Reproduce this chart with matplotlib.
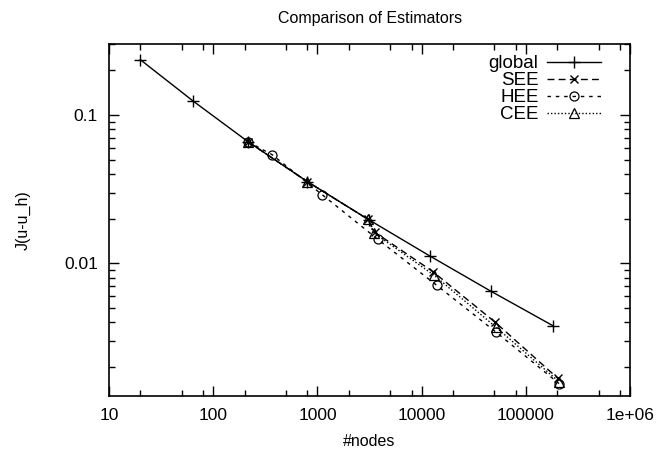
import matplotlib
matplotlib.use("Agg")
import matplotlib.pyplot as plt
from matplotlib.ticker import FixedLocator, NullFormatter

plt.rcParams['font.family'] = ['Liberation Sans', 'DejaVu Sans']

# data
global_n = [20, 64, 216, 800, 3100, 12000, 46000, 182000]
global_j = [0.235, 0.124, 0.0659, 0.0355, 0.0197, 0.0112, 0.0065, 0.0038]

see_n = [216, 800, 3050, 3550, 12800, 51000, 203000]
see_j = [0.0659, 0.0355, 0.0198, 0.0162, 0.0088, 0.0040, 0.00168]

hee_n = [216, 366, 1110, 3800, 14000, 51500, 208000]
hee_j = [0.0659, 0.054, 0.029, 0.0145, 0.0071, 0.00345, 0.00155]

cee_n = [216, 800, 3050, 3500, 13200, 52000, 207000]
cee_j = [0.0659, 0.0355, 0.0198, 0.0160, 0.0083, 0.0037, 0.0016]

xticks = [10, 100, 1000, 10000, 100000, 1000000]
xticklabels = ['10', '100', '1000', '10000', '100000', '1e+06']
yticks = [0.01, 0.1]
yticklabels = ['0.01', '0.1']

fig = plt.figure(figsize=(6.57, 4.54), dpi=100)
ax = fig.add_axes([0.166, 0.128, 0.793, 0.775])

ax.plot(global_n, global_j, color='black', lw=1.0, ls='-', marker='+', ms=9, mew=1.0, label='global')
ax.plot(see_n, see_j, color='black', lw=1.0, ls=(0, (5, 3)), marker='x', ms=6, mew=1.0, label='SEE')
ax.plot(hee_n, hee_j, color='black', lw=1.0, ls=(0, (2.5, 3.5)), marker='o', ms=6.5, mew=0.9,
        mfc='none', label='HEE')
ax.plot(cee_n, cee_j, color='black', lw=1.0, ls=(0, (1, 1.5)), marker='^', ms=6.5, mew=0.9,
        mfc='none', label='CEE')

ax.set_xscale('log')
ax.set_yscale('log')
ax.set_xlim(10, 1e6)
ax.set_ylim(0.00128, 0.30)

ax.xaxis.set_major_locator(FixedLocator(xticks))
ax.set_xticklabels(xticklabels)
# minor ticks like the gnuplot output (2, 5, 8 per decade)
xminor = [m * 10 ** e for e in range(1, 6) for m in (2, 5, 8)]
ax.xaxis.set_minor_locator(FixedLocator(xminor))
ax.xaxis.set_minor_formatter(NullFormatter())

ax.yaxis.set_major_locator(FixedLocator(yticks))
ax.set_yticklabels(yticklabels)
yminor = [m * 10 ** e for e in range(-3, 0) for m in range(2, 10)]
ax.yaxis.set_minor_locator(FixedLocator(yminor))
ax.yaxis.set_minor_formatter(NullFormatter())

ax.tick_params(which='both', direction='in', top=True, right=True, width=1.0, labelsize=12.5)
ax.tick_params(which='major', length=7)
ax.tick_params(which='minor', length=4)
ax.tick_params(axis='x', pad=9)
ax.tick_params(axis='y', pad=8)
for s in ax.spines.values():
    s.set_linewidth(1.2)

ax.set_xlabel('#nodes', fontsize=11.5, labelpad=8)
ax.set_ylabel('J(u-u_h)', fontsize=11.5, labelpad=24)
ax.set_title('Comparison of Estimators', fontsize=11.5, pad=15)

leg = ax.legend(loc='upper right', bbox_to_anchor=(0.945, 0.969), markerfirst=False,
                frameon=False, fontsize=13.5, handlelength=2.9, handletextpad=0.45,
                labelspacing=0.0, borderaxespad=0.0, borderpad=0.0)

fig.savefig('out.png', dpi=100)
